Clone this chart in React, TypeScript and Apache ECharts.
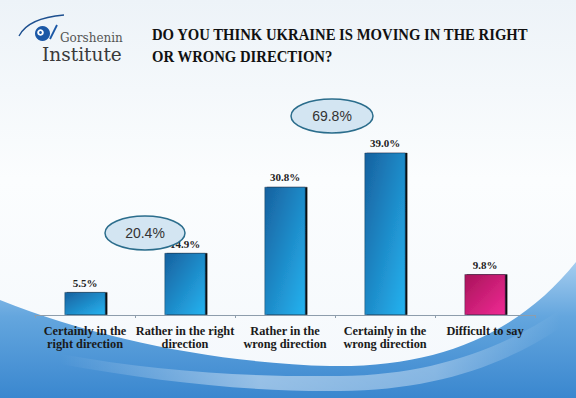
import React, { useEffect, useRef } from "react";
import * as echarts from "echarts";

const categories = [
  "Certainly in the\nright direction",
  "Rather in the right\ndirection",
  "Rather in the\nwrong direction",
  "Certainly in the\nwrong direction",
  "Difficult to say",
];
const values = [5.5, 14.9, 30.8, 39.0, 9.8];
const summaryLabels = ["20.4%", "69.8%"];
const titleLines = ["DO YOU THINK UKRAINE IS MOVING IN THE RIGHT", "OR WRONG DIRECTION?"];

echarts.graphic.registerShape(
  "waveBase",
  echarts.graphic.extendPath(
    "M0,300 C 100,340 220,363 330,366 C 440,368 520,332 576,262 L576,398 L0,398 Z",
    {}
  ) as any
);
echarts.graphic.registerShape(
  "waveBand",
  echarts.graphic.extendPath(
    "M60,354 C 160,372 250,377 340,376 C 430,375 500,350 560,310 L560,328 C 500,368 430,390 340,391 C 250,392 160,382 60,364 Z",
    {}
  ) as any
);

const blueGrad = new echarts.graphic.LinearGradient(0, 0, 1, 1, [
  { offset: 0, color: "#17619f" },
  { offset: 1, color: "#25b3f0" },
]);
const pinkGrad = new echarts.graphic.LinearGradient(0, 0, 1, 1, [
  { offset: 0, color: "#a8145a" },
  { offset: 1, color: "#f02a94" },
]);

export default function App() {
  const ref = useRef<HTMLDivElement>(null);
  useEffect(() => {
    if (!ref.current) return;
    const chart = echarts.init(ref.current, null, { renderer: "svg" });
    const option: any = {
      animation: false,
      backgroundColor: new echarts.graphic.LinearGradient(0, 0, 0, 1, [
        { offset: 0, color: "#edf3f8" },
        { offset: 0.45, color: "#fbfdfe" },
        { offset: 1, color: "#f4f8fc" },
      ]),
      grid: { left: 35, right: 41, top: 107, bottom: 83 },
      xAxis: {
        type: "category",
        data: categories,
        axisLine: { lineStyle: { color: "#8d9dac", width: 1 } },
        axisTick: { show: true, length: 3, lineStyle: { color: "#8d9dac" } },
        axisLabel: {
          margin: 10,
          color: "#1a1a1a",
          fontFamily: "Liberation Serif",
          fontWeight: "bold",
          fontSize: 12.3,
          lineHeight: 12.5,
          interval: 0,
        },
        z: 5,
      },
      yAxis: { type: "value", min: 0, max: 50, show: false },
      series: [
        {
          type: "bar",
          data: values.map((v, i) => ({
            value: v,
            itemStyle: { color: i === 4 ? pinkGrad : blueGrad },
          })),
          barWidth: 41,
          itemStyle: {
            borderColor: "rgba(10,30,50,0.6)",
            borderWidth: 0.6,
            shadowColor: "rgba(0,0,0,0.95)",
            shadowOffsetX: 2,
            shadowOffsetY: 0,
            shadowBlur: 1,
          },
          label: {
            show: true,
            position: "top",
            distance: 4,
            formatter: (p: any) => `${Number(p.value).toFixed(1)}%`,
            color: "#222",
            fontFamily: "Liberation Serif",
            fontWeight: "bold",
            fontSize: 11,
          },
        },
      ],
      graphic: [
        {
          type: "waveBase",
          z: -10,
          silent: true,
          style: {
            fill: new echarts.graphic.LinearGradient(0, 0, 0, 1, [
              { offset: 0, color: "#a6cdef" },
              { offset: 0.4, color: "#64a6de" },
              { offset: 1, color: "#3a87cf" },
            ]),
          },
        },
        {
          type: "waveBand",
          z: -9,
          silent: true,
          style: {
            fill: new echarts.graphic.LinearGradient(0, 0, 1, 0, [
              { offset: 0, color: "rgba(255,255,255,0)" },
              { offset: 0.4, color: "rgba(255,255,255,0.45)" },
              { offset: 0.75, color: "rgba(255,255,255,0.35)" },
              { offset: 1, color: "rgba(255,255,255,0)" },
            ]),
          },
        },
        {
          type: "text",
          x: 152,
          y: 23,
          scaleX: 0.92,
          style: {
            text: titleLines.join("\n"),
            font: "bold 16px 'Liberation Serif'",
            fill: "#111",
            lineHeight: 22,
          },
        },
        // logo
        {
          type: "bezierCurve",
          shape: { x1: 19, y1: 36, x2: 64, y2: 15, cpx1: 28, cpy1: 18 },
          style: { stroke: "#1d4f8f", lineWidth: 1.3, fill: null },
        },
        { type: "circle", shape: { cx: 42.5, cy: 33.5, r: 7.5 }, style: { fill: "#1b58a6" } },
        { type: "circle", shape: { cx: 40.5, cy: 32.5, r: 3.3 }, style: { fill: "#ffffff" } },
        { type: "circle", shape: { cx: 40.5, cy: 32.5, r: 1.4 }, style: { fill: "#1b58a6" } },
        {
          type: "line",
          shape: { x1: 50, y1: 39, x2: 57, y2: 25 },
          style: { stroke: "#1b58a6", lineWidth: 1.8 },
        },
        {
          type: "text",
          x: 60,
          y: 37.8,
          style: {
            text: "Gorshenin",
            font: "12px 'DejaVu Serif'",
            fill: "#555",
            verticalAlign: "middle",
          },
        },
        {
          type: "text",
          x: 42,
          y: 54.6,
          style: {
            text: "Institute",
            font: "18.5px 'DejaVu Serif'",
            fill: "#3a3a3a",
            verticalAlign: "middle",
          },
        },
        // summary ellipses
        {
          type: "ellipse",
          shape: { cx: 145, cy: 233, rx: 40, ry: 17 },
          style: { fill: "#d3e5f2", stroke: "#2b6d8c", lineWidth: 1.5 },
          z: 10,
        },
        {
          type: "text",
          x: 145,
          y: 233,
          z: 11,
          style: {
            text: summaryLabels[0],
            font: "14px 'Liberation Sans'",
            fill: "#333",
            align: "center",
            verticalAlign: "middle",
          },
        },
        {
          type: "ellipse",
          shape: { cx: 332, cy: 116, rx: 41, ry: 17 },
          style: { fill: "#d3e5f2", stroke: "#2b6d8c", lineWidth: 1.5 },
          z: 10,
        },
        {
          type: "text",
          x: 332,
          y: 116,
          z: 11,
          style: {
            text: summaryLabels[1],
            font: "14px 'Liberation Sans'",
            fill: "#333",
            align: "center",
            verticalAlign: "middle",
          },
        },
      ],
    };
    chart.setOption(option);
    return () => chart.dispose();
  }, []);
  return (
    <div
      ref={ref}
      style={{ position: "fixed", left: 0, top: 0, width: 576, height: 398 }}
    />
  );
}
